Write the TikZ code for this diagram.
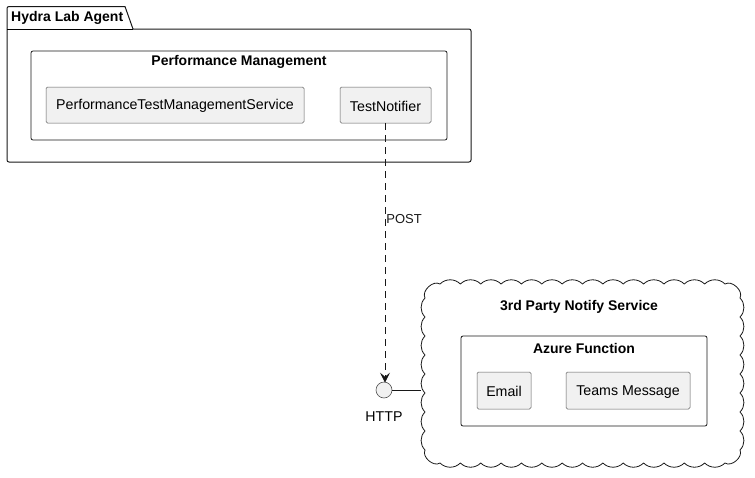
\documentclass[tikz,border=0pt]{standalone}
\usepackage{fontspec}
\setmainfont{Liberation Sans}
\usetikzlibrary{arrows.meta}
\definecolor{boxfill}{HTML}{F1F1F1}
\definecolor{boxline}{HTML}{181818}
\tikzset{
  comp/.style={draw=boxline!70, fill=boxfill, line width=0.5pt, rounded corners=1.5pt, inner sep=0pt},
  frame/.style={draw=boxline, line width=0.8pt, rounded corners=2pt},
  title/.style={font=\fontsize{14}{16}\selectfont\bfseries, inner sep=0pt},
  lbl/.style={font=\fontsize{14.2}{16}\selectfont, inner sep=0pt},
  small/.style={font=\fontsize{13}{15}\selectfont, inner sep=0pt},
  scallop/.style={bend left=45},
  cornerarc/.style={bend left=75},
}
\begin{document}
\begin{tikzpicture}[x=1pt,y=-1pt]
\useasboundingbox (0,0) rectangle (755,477);
% package
\draw[frame, line width=1pt] (7,29) -- (7,6.5) [rounded corners=0pt]-- (125,6.5) -- (133,29) [rounded corners=2pt] -- (471,29) -- (471,162) -- (7,162) -- cycle;
\draw[line width=1pt] (7,29) -- (133,29);
\node[title, anchor=west] (pkgt) at (11,18) {Hydra Lab Agent};
% performance management
\draw[frame] (31,51) rectangle (447,140);
\node[title] (pmt) at (239,62) {Performance Management};
\node[comp, minimum width=258, minimum height=36] (ptms) at (175,105) {};
\node[lbl] at ([yshift=-1.2]ptms) {PerformanceTestManagementService};
\node[comp, minimum width=91, minimum height=36] (tn) at (385.5,105) {};
\node[lbl] at ([yshift=-1.2]tn) {TestNotifier};
% cloud
\draw[draw=boxline, line width=0.8pt, line join=round]
  (425,298) to[cornerarc] (440,284)
  \foreach \i in {1,...,14} { to[scallop] ++(20.357,0) }
  to[cornerarc] (740,298)
  \foreach \i in {1,...,8} { to[scallop] ++(0,19) }
  to[cornerarc] (725,463)
  \foreach \i in {1,...,14} { to[scallop] ++(-20.357,0) }
  to[cornerarc] (425,450)
  \foreach \i in {1,...,8} { to[scallop] ++(0,-19) };
\node[title] (cloudt) at (579,307) {3rd Party Notify Service};
\draw[frame] (461,336) rectangle (707,426);
\node[title] (azt) at (584,348) {Azure Function};
\node[comp, minimum width=54, minimum height=37] (email) at (504,390.5) {};
\node[lbl] at ([yshift=-1.2]email) {Email};
\node[comp, minimum width=124, minimum height=37] (teams) at (628,390.5) {};
\node[lbl] at ([yshift=-1.2]teams) {Teams Message};
% interface
\node[circle, draw=boxline!75, fill=boxfill, line width=0.6pt, minimum size=16, inner sep=0pt] (http) at (384,390) {};
\node[lbl] (httpl) at (384,417) {HTTP};
\coordinate (cloudl) at (421,390);
\draw[boxline, line width=0.8pt] (http) -- (cloudl);
% arrow
\draw[boxline, line width=0.8pt, dash pattern=on 7pt off 5pt, -{Stealth[length=10pt,width=10pt,inset=4pt]}] (tn.south -| 385,0) -- ([yshift=-1]http.north -| 385,0) node[small, pos=0.37, anchor=west, xshift=1pt] {POST};
\end{tikzpicture}
\end{document}
